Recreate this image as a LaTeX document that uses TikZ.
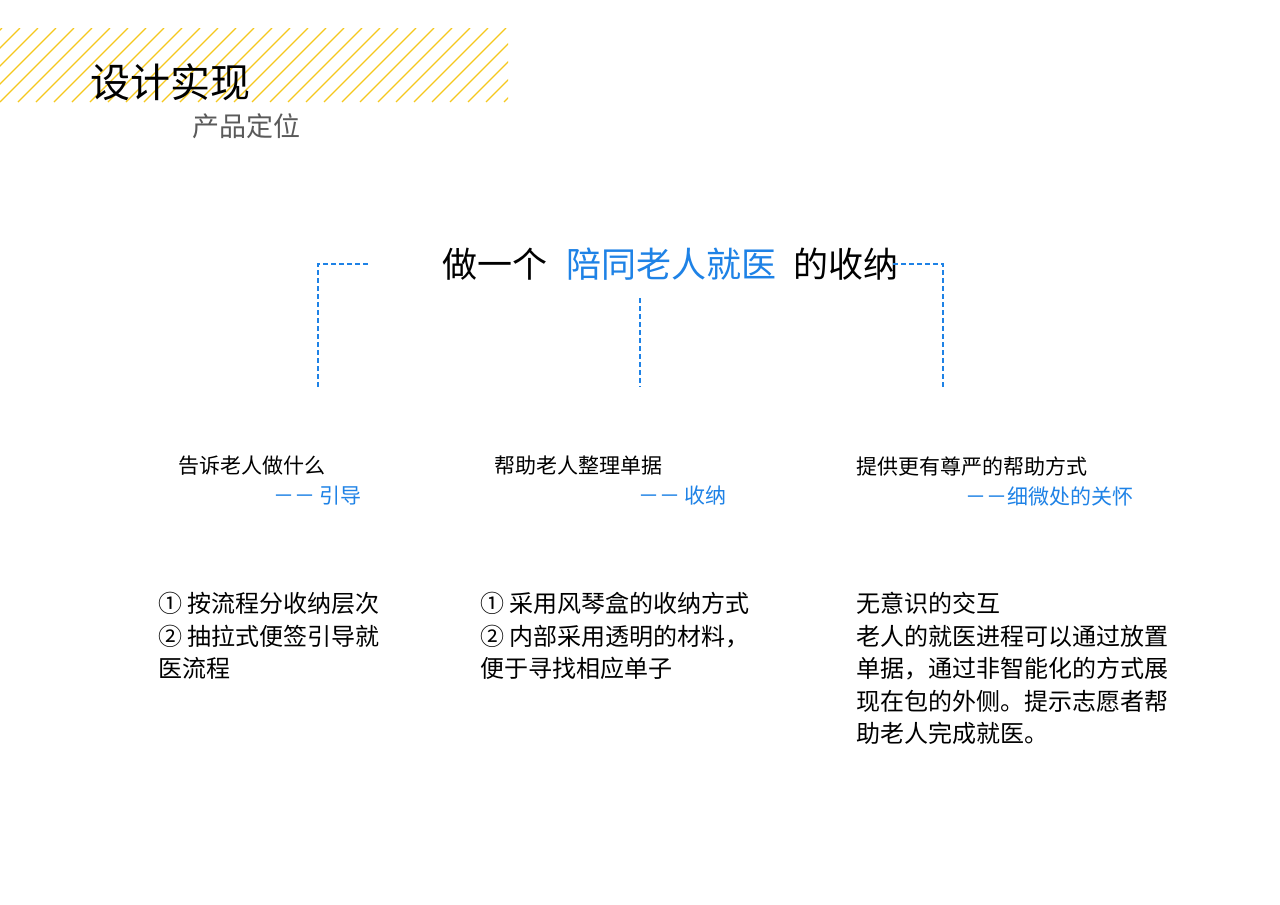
\documentclass[tikz,border=0pt]{standalone}
\usepackage{fontspec}
\setmainfont{Noto Sans CJK SC}
\newfontfamily\cjk{Noto Sans CJK SC}
\definecolor{hy}{RGB}{245,200,30}
\definecolor{bl}{RGB}{30,130,230}
\definecolor{gr}{RGB}{90,90,90}
\begin{document}
\begin{tikzpicture}[x=1pt,y=-1pt,
  dl/.style={bl,dashed,line width=1.3pt,dash pattern=on 5pt off 3pt},
  sub/.style={font=\fontsize{21}{26}\selectfont,inner sep=0pt},
  body/.style={font=\fontsize{24}{32.5}\selectfont,inner sep=0pt,align=left,anchor=north west}]
\useasboundingbox (0,0) rectangle (1280,905);
\fill[white] (0,0) rectangle (1280,905);
\begin{scope}
\clip (0,28) rectangle (508,102);
\foreach \x in {-90,-72,...,520} \draw[hy,line width=1.3pt] (\x,102) -- (\x+74,28);
\end{scope}
\node[anchor=west,inner sep=0pt,font=\fontsize{40}{44}\selectfont] (t1) at (90,82) {设计实现};
\node[anchor=west,inner sep=0pt,gr,font=\fontsize{27}{30}\selectfont] (t2) at (192,126) {产品定位};
\node[anchor=west,inner sep=0pt,font=\fontsize{35}{40}\selectfont] (main) at (442,264) {做一个\hspace{0.55em}\textcolor{bl}{陪同老人就医}\hspace{0.5em}的收纳};
\coordinate (l0) at (368,264); \coordinate (l1) at (318,264); \coordinate (l2) at (318,387);
\coordinate (m0) at (640,298); \coordinate (m1) at (640,387);
\coordinate (r0) at (893,264); \coordinate (r1) at (943,264); \coordinate (r2) at (943,387);
\draw[dl] (l0) -- (l1) -- (l2);
\draw[dl] (m0) -- (m1);
\draw[dl] (r0) -- (r1) -- (r2);
\node[sub,anchor=west] (a1) at (178,466) {告诉老人做什么};
\node[sub,anchor=east,bl] (a2) at (362,496) {－－ 引导};
\node[sub,anchor=west] (b1) at (494,466) {帮助老人整理单据};
\node[sub,anchor=east,bl] (b2) at (727,496) {－－ 收纳};
\node[sub,anchor=west] (c1) at (856,466) {提供更有尊严的帮助方式};
\node[sub,anchor=east,bl] (c2) at (1134,496) {－－细微处的关怀};
\node[body] (a3) at (158,592) {① 按流程分收纳层次\\② 抽拉式便签引导就\\医流程};
\node[body] (b3) at (480,592) {① 采用风琴盒的收纳方式\\② 内部采用透明的材料，\\便于寻找相应单子};
\node[body] (c3) at (856,592) {无意识的交互\\老人的就医进程可以通过放置\\单据，通过非智能化的方式展\\现在包的外侧。提示志愿者帮\\助老人完成就医。};
\end{tikzpicture}
\end{document}
